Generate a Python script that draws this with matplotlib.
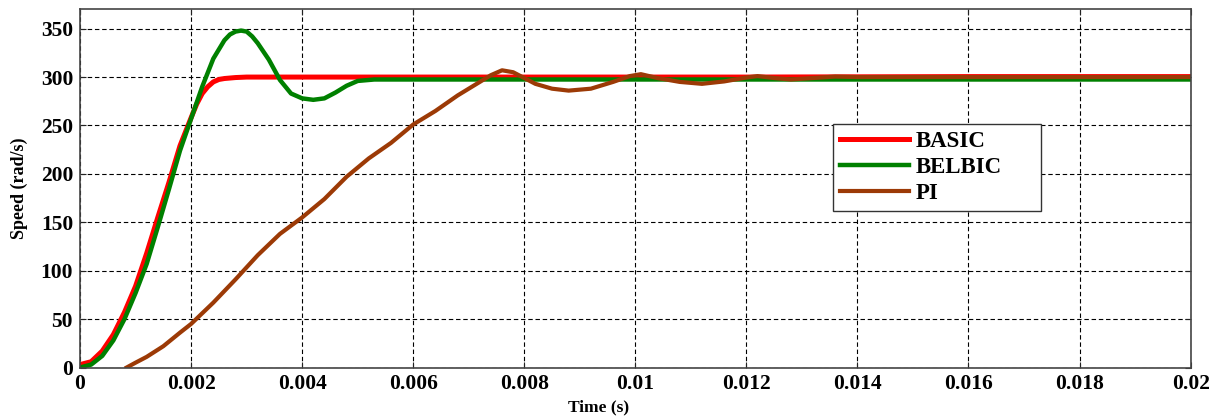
import numpy as np, matplotlib
matplotlib.use("Agg"); import matplotlib.pyplot as plt

# speed response of the three controllers
t_basic = [0, 0.0002, 0.0004, 0.0006, 0.0008, 0.001, 0.0012, 0.0014, 0.0016, 0.0018,
           0.002, 0.0021, 0.0022, 0.0023, 0.0024, 0.0025, 0.0026, 0.0028, 0.003, 0.005,
           0.008, 0.012, 0.016, 0.02]
v_basic = [3, 6, 17, 34, 57, 84, 118, 155, 191, 229,
           258, 272, 283, 290, 295, 297.5, 298.5, 299.5, 300, 300,
           300, 300, 300.5, 300.5]

t_belbic = [0, 0.0002, 0.0004, 0.0006, 0.0008, 0.001, 0.0012, 0.0014, 0.0016, 0.0018,
            0.002, 0.0022, 0.0024, 0.0026, 0.0027, 0.0028, 0.0029, 0.003, 0.0031, 0.0032,
            0.0034, 0.0036, 0.0038, 0.004, 0.0042, 0.0044, 0.0046, 0.0048, 0.005, 0.0053,
            0.006, 0.01, 0.015, 0.02]
v_belbic = [0, 3, 12, 28, 50, 77, 107, 145, 184, 224,
            257, 290, 319, 338, 344, 347, 348, 347, 342, 335,
            318, 297, 283, 278, 276.5, 278, 284, 291, 296, 297.5,
            297.5, 297.5, 297.5, 297.5]

t_pi = [0.00084, 0.001, 0.0012, 0.0015, 0.0018, 0.002, 0.0024, 0.0028, 0.0032, 0.0036,
        0.004, 0.0044, 0.0048, 0.0052, 0.0056, 0.006, 0.0064, 0.0068, 0.0072, 0.0074,
        0.0076, 0.0078, 0.008, 0.0082, 0.0085, 0.0088, 0.0092, 0.0096, 0.0099, 0.0101,
        0.0104, 0.0108, 0.0112, 0.0116, 0.012, 0.0122, 0.0125, 0.0128, 0.0132, 0.0136,
        0.014, 0.017, 0.02]
v_pi = [0, 5, 11, 22, 36, 45, 67, 91, 116, 138,
        155, 174, 197, 216, 232, 251, 265, 281, 295, 302,
        307, 305, 299, 293, 288, 286, 288, 295, 301, 303,
        299, 295, 293, 295.5, 299.5, 301, 299, 297.5, 299, 300.5,
        300, 300, 300]

labels = ["BASIC", "BELBIC", "PI"]
cols = ["#ff0000", "#008000", "#9c3a06"]

plt.rcParams['font.family'] = ['Liberation Serif', 'DejaVu Serif']
plt.rcParams['font.weight'] = 'bold'

fig = plt.figure(figsize=(12.22, 4.17), dpi=100)
ax = fig.add_axes([0.0655, 0.1187, 0.9088, 0.859])

ax.plot(t_basic, v_basic, color=cols[0], lw=3.6, label=labels[0])
ax.plot(t_belbic, v_belbic, color=cols[1], lw=3.2, label=labels[1])
ax.plot(t_pi, v_pi, color=cols[2], lw=3.0, label=labels[2])

ax.set_xlim(0, 0.02); ax.set_ylim(0, 370)
ax.set_xticks(np.arange(0, 0.0201, 0.002))
ax.set_xticklabels(["0", "0.002", "0.004", "0.006", "0.008", "0.01", "0.012",
                    "0.014", "0.016", "0.018", "0.02"])
ax.set_yticks(range(0, 351, 50))
ax.tick_params(direction='in', length=4, width=0.8, top=True, right=True,
               labelsize=15.5, pad=5, colors='#222222', labelcolor='black')
for s in ax.spines.values():
    s.set_color('#444444'); s.set_linewidth(1.2)
ax.grid(True, color='black', linestyle=(0, (4, 2.5)), lw=0.8)

ax.set_xlabel("Time (s)", fontsize=12.5, fontweight='bold')
ax.xaxis.set_label_coords(0.4665, -0.09)
ax.set_ylabel("Speed (rad/s)", fontsize=13, fontweight='bold', labelpad=9)

leg = ax.legend(loc='upper left', bbox_to_anchor=(0.678, 0.4425, 0.1877, 0.2375),
                mode='expand', fontsize=16.5, handlelength=3.0, handletextpad=0.3,
                labelspacing=0.22, borderpad=0.3, borderaxespad=0, fancybox=False,
                framealpha=1, edgecolor='#333333')
leg.get_frame().set_linewidth(1.0)

fig.savefig("out.png", dpi=100)
